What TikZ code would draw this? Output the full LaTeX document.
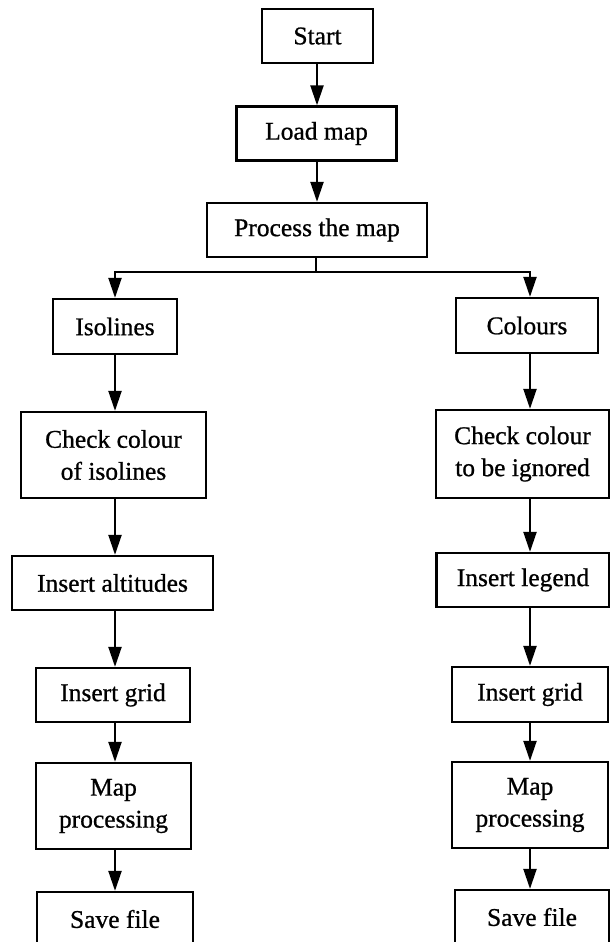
\documentclass[tikz,border=0pt]{standalone}
\usepackage{fontspec}
\setmainfont{Liberation Serif}[FakeBold=0.8]
\usetikzlibrary{arrows.meta}
\begin{document}
\begin{tikzpicture}[x=1pt,y=-1pt,
  box/.style={draw, line width=2.3pt, inner sep=0pt, align=center, font=\fontsize{25.5}{32}\selectfont},
  conn/.style={line width=2.2pt},
  arr/.style={conn, -{Triangle[length=20pt,width=13pt]}}]
\useasboundingbox (0,0) rectangle (610,942);
\clip (0,0) rectangle (610,942);
\coordinate (colL) at (115,0);
\coordinate (colR) at (530,0);
\coordinate (colM) at (317,0);
\coordinate (split) at (316,272);
% top
\node[box, minimum width=111pt, minimum height=54pt] (start) at (317.5,36) {Start};
\node[box, minimum width=160pt, minimum height=54pt] (load) at (316.5,133.5) {Load map};
\node[box, minimum width=220pt, minimum height=54pt] (process) at (317,230) {Process the map};
% left column
\node[box, minimum width=124pt, minimum height=55pt] (isol) at (115,326.5) {Isolines};
\node[box, minimum width=185pt, minimum height=86pt] (check1) at (113.5,455) {Check colour\\of isolines};
\node[box, minimum width=201pt, minimum height=54pt] (alt) at (112.5,583) {Insert altitudes};
\node[box, minimum width=154pt, minimum height=54pt] (gridL) at (113,695) {Insert grid};
\node[box, minimum width=155pt, minimum height=86pt] (mapL) at (113.5,806) {Map\\processing};
\node[box, minimum width=156pt, minimum height=54pt] (saveL) at (115,919) {Save file};
% right column
\node[box, minimum width=142pt, minimum height=55pt] (colours) at (527,325.5) {Colours};
\node[box, minimum width=173pt, minimum height=88pt] (check2) at (522.5,454) {Check colour\\to be ignored};
\node[box, minimum width=173pt, minimum height=54pt] (legend) at (523,580) {Insert legend};
\node[box, minimum width=156pt, minimum height=55pt] (gridR) at (530,694.5) {Insert grid};
\node[box, minimum width=156pt, minimum height=86pt] (mapR) at (530,805) {Map\\processing};
\node[box, minimum width=154pt, minimum height=54pt] (saveR) at (532,917) {Save file};
% connectors
\draw[arr] (start.south -| colM) -- (load.north -| colM);
\draw[arr] (load.south -| colM) -- (process.north -| colM);
\draw[conn] (process.south -| split) -- (split);
\draw[arr] (split) -| (isol.north -| colL);
\draw[arr] (split) -| (colours.north -| colR);
\draw[arr] (isol.south -| colL) -- (check1.north -| colL);
\draw[arr] (check1.south -| colL) -- (alt.north -| colL);
\draw[arr] (alt.south -| colL) -- (gridL.north -| colL);
\draw[arr] (gridL.south -| colL) -- (mapL.north -| colL);
\draw[arr] (mapL.south -| colL) -- (saveL.north -| colL);
\draw[arr] (colours.south -| colR) -- (check2.north -| colR);
\draw[arr] (check2.south -| colR) -- (legend.north -| colR);
\draw[arr] (legend.south -| colR) -- (gridR.north -| colR);
\draw[arr] (gridR.south -| colR) -- (mapR.north -| colR);
\draw[arr] (mapR.south -| colR) -- (saveR.north -| colR);
\end{tikzpicture}
\end{document}
